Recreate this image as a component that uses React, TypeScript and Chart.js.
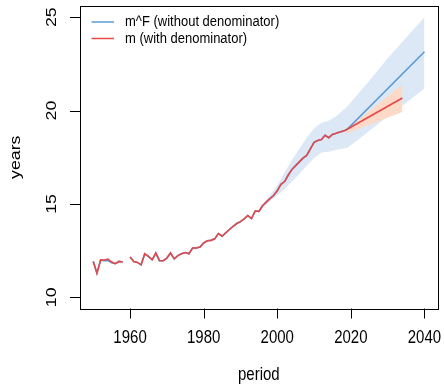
import { useEffect, useRef } from "react";
import { Chart, registerables } from "chart.js";
Chart.register(...registerables);

const histYears = [
  1950, 1951, 1952, 1953, 1954, 1955, 1956, 1957, 1958, 1959,
  1960, 1961, 1962, 1963, 1964, 1965, 1966, 1967, 1968, 1969,
  1970, 1971, 1972, 1973, 1974, 1975, 1976, 1977, 1978, 1979,
  1980, 1981, 1982, 1983, 1984, 1985, 1986, 1987, 1988, 1989,
  1990, 1991, 1992, 1993, 1994, 1995, 1996, 1997, 1998, 1999,
  2000, 2001, 2002, 2003, 2004, 2005, 2006, 2007, 2008, 2009,
  2010, 2011, 2012, 2013, 2014, 2015, 2016, 2017, 2018, 2019,
];
const mHist: (number | null)[] = [
  11.92, 11.29, 12.01, 12.0, 12.05, 11.89, 11.8, 11.92, 11.89, null,
  12.16, 11.92, 11.87, 11.74, 12.33, 12.19, 12.01, 12.37, 11.96, 11.96,
  12.1, 12.37, 12.06, 12.23, 12.33, 12.4, 12.33, 12.64, 12.64, 12.69,
  12.91, 13.03, 13.05, 13.13, 13.41, 13.27, 13.45, 13.63, 13.8, 13.95,
  14.05, 14.2, 14.38, 14.22, 14.62, 14.6, 14.9, 15.1, 15.28, 15.45,
  15.7, 16.05, 16.2, 16.55, 16.85, 17.05, 17.25, 17.45, 17.6, 17.95,
  18.3, 18.4, 18.45, 18.68, 18.55, 18.72, 18.78, 18.85, 18.9, 19.0,
];
const mFHist: (number | null)[] = [
  11.92, 11.29, 11.98, 11.96, 11.97, 11.85, 11.8, 11.92, 11.89, null,
  12.16, 11.92, 11.87, 11.74, 12.33, 12.19, 12.01, 12.37, 11.96, 11.96,
  12.1, 12.37, 12.06, 12.23, 12.33, 12.4, 12.33, 12.64, 12.64, 12.69,
  12.91, 13.03, 13.05, 13.13, 13.41, 13.27, 13.45, 13.63, 13.8, 13.95,
  14.05, 14.2, 14.38, 14.22, 14.62, 14.6, 14.9, 15.1, 15.28, 15.45,
  15.7, 16.05, 16.2, 16.55, 16.85, 17.05, 17.25, 17.45, 17.6, 17.95,
  18.3, 18.4, 18.45, 18.68, 18.55, 18.72, 18.78, 18.85, 18.9, 19.0,
];
const mFProjYears = [2040];
const mFProj = [23.15];
const mProjYears = [2034];
const mProj = [20.67];

const bandFYears = [1995, 1998, 2000, 2002, 2004, 2006, 2008, 2010, 2012, 2014, 2016, 2019, 2025, 2030, 2035, 2040];
const bandFLow = [14.55, 15.15, 15.45, 15.8, 16.2, 16.6, 17.05, 17.45, 17.75, 17.8, 17.9, 18.0, 18.9, 19.7, 20.4, 21.2];
const bandFHigh = [14.7, 15.45, 16.0, 16.7, 17.35, 17.95, 18.55, 19.05, 19.35, 19.45, 19.7, 20.2, 21.6, 22.8, 23.9, 25.0];

const bandMYears = [2018.5, 2034];
const bandMLow = [18.75, 19.92];
const bandMHigh = [18.95, 21.39];

const xTicks = [1960, 1980, 2000, 2020, 2040];
const yTicks = [10, 15, 20, 25];
const seriesLabels = ["m^F (without denominator)", "m (with denominator)"];
const xTitle = "period";
const yTitle = "years";

const BLUE = "#5B9BD5";
const RED = "#E5484A";
const BLUE_BAND = "#DCE8F6";
const RED_BAND = "#FDD9C7";
const FONT = '"Liberation Sans", Arial, Helvetica, sans-serif';
const SY = 1.18;

function pts(xs: number[], ys: (number | null)[]) {
  return xs.map((x, i) => ({ x, y: ys[i] }));
}

function drawText(ctx: CanvasRenderingContext2D, s: string, x: number, y: number, rot: number, size: number, align: CanvasTextAlign) {
  ctx.save();
  ctx.translate(x, y);
  ctx.scale(1, SY);
  ctx.rotate(rot);
  ctx.font = `${size}px ${FONT}`;
  ctx.textAlign = align;
  ctx.textBaseline = "middle";
  ctx.fillStyle = "#000";
  ctx.fillText(s, 0, 0);
  ctx.restore();
}

const rAxes = {
  id: "rAxes",
  afterDraw(chart: any) {
    const ctx: CanvasRenderingContext2D = chart.ctx;
    const { left, right, top, bottom } = chart.chartArea;
    const xs = chart.scales.x;
    const ys = chart.scales.y;
    ctx.save();
    ctx.strokeStyle = "#000";
    ctx.lineWidth = 1;
    ctx.strokeRect(Math.round(left) + 0.5, Math.round(top) + 0.5, Math.round(right - left), Math.round(bottom - top));
    ctx.beginPath();
    xTicks.forEach((t) => {
      const px = Math.round(xs.getPixelForValue(t)) + 0.5;
      ctx.moveTo(px, bottom);
      ctx.lineTo(px, bottom + 10);
    });
    yTicks.forEach((t) => {
      const py = Math.round(ys.getPixelForValue(t)) + 0.5;
      ctx.moveTo(left, py);
      ctx.lineTo(left - 10, py);
    });
    ctx.stroke();
    xTicks.forEach((t) => drawText(ctx, String(t), xs.getPixelForValue(t), 338, 0, 15, "center"));
    yTicks.forEach((t) => drawText(ctx, String(t), 52, ys.getPixelForValue(t), -Math.PI / 2, 15, "center"));
    drawText(ctx, xTitle, (left + right) / 2, 375, 0, 15, "center");
    drawText(ctx, yTitle, 16, (top + bottom) / 2, -Math.PI / 2, 15, "center");
    // legend
    const colors = [BLUE, RED];
    const rows = [22, 38.5];
    seriesLabels.forEach((lab, i) => {
      ctx.strokeStyle = colors[i];
      ctx.lineWidth = 1.5;
      ctx.beginPath();
      ctx.moveTo(91.5, rows[i]);
      ctx.lineTo(114, rows[i]);
      ctx.stroke();
      drawText(ctx, lab, 125, rows[i], 0, 13, "left");
    });
    ctx.restore();
  },
};

export default function App() {
  const ref = useRef<HTMLCanvasElement>(null);
  useEffect(() => {
    if (!ref.current) return;
    const chart = new Chart(ref.current, {
      type: "line",
      data: {
        datasets: [
          {
            label: seriesLabels[1],
            data: [...pts(histYears, mHist), ...pts(mProjYears, mProj)],
            borderColor: RED,
            borderWidth: 1.6,
            pointRadius: 0,
            fill: false,
            spanGaps: false,
          },
          {
            label: seriesLabels[0],
            data: [...pts(histYears, mFHist), ...pts(mFProjYears, mFProj)],
            borderColor: BLUE,
            borderWidth: 1.6,
            pointRadius: 0,
            fill: false,
            spanGaps: false,
          },
          {
            label: "m upper",
            data: pts(bandMYears, bandMHigh),
            borderWidth: 0,
            pointRadius: 0,
            backgroundColor: RED_BAND,
            fill: "+1",
          },
          {
            label: "m lower",
            data: pts(bandMYears, bandMLow),
            borderWidth: 0,
            pointRadius: 0,
            fill: false,
          },
          {
            label: "mF upper",
            data: pts(bandFYears, bandFHigh),
            borderWidth: 0,
            pointRadius: 0,
            backgroundColor: BLUE_BAND,
            fill: "+1",
          },
          {
            label: "mF lower",
            data: pts(bandFYears, bandFLow),
            borderWidth: 0,
            pointRadius: 0,
            fill: false,
          },
        ],
      },
      options: {
        responsive: false,
        animation: false,
        layout: { padding: { left: 80, top: 6, right: 6.3, bottom: 75.5 } },
        plugins: { legend: { display: false }, tooltip: { enabled: false } },
        scales: {
          x: { type: "linear", min: 1946.4, max: 2043.6, display: false },
          y: { type: "linear", min: 9.4, max: 25.6, display: false },
        },
      },
      plugins: [rAxes],
    });
    return () => chart.destroy();
  }, []);
  return (
    <div style={{ position: "fixed", left: 0, top: 0, width: 444, height: 384, background: "#fff" }}>
      <canvas ref={ref} width={444} height={384} style={{ display: "block" }} />
    </div>
  );
}
